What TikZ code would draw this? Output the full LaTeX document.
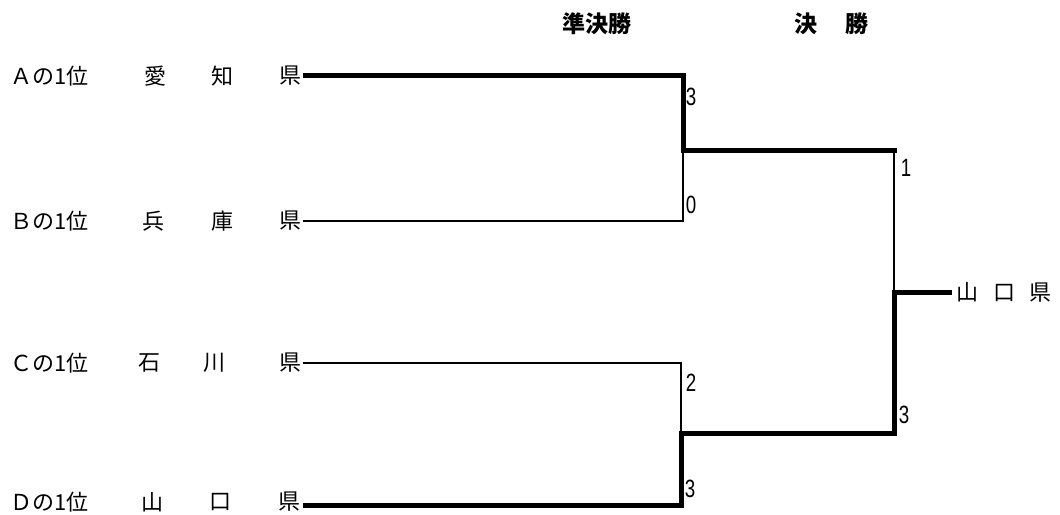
\documentclass[tikz,border=0pt]{standalone}
\usepackage{fontspec}
\newfontfamily\cjk{Noto Sans CJK JP}
\setmainfont{Liberation Sans}
\begin{document}
\begin{tikzpicture}[x=1pt,y=-1pt,
  lbl/.style={font=\cjk\fontsize{22}{22}\selectfont, inner sep=0pt, anchor=center},
  hdr/.style={font=\cjk\bfseries\fontsize{23}{23}\selectfont, inner sep=0pt},
  score/.style={font=\fontsize{25}{25}\selectfont, inner sep=0pt, xscale=0.75},
  win/.style={line width=5pt, line cap=rect, line join=miter},
  lose/.style={line width=1.6pt, line join=miter}]
\useasboundingbox (0,0) rectangle (1060,514);
% headers
\node[hdr] (h1) at (597,24) {準決勝};
\node[hdr] (h2a) at (806,24) {決};
\node[hdr] (h2b) at (857,24) {勝};
% row labels
\node[lbl,anchor=west] (a0) at (10,76) {Ａの1位};
\node[lbl] (a1) at (155,76) {愛};
\node[lbl] (a2) at (222,76) {知};
\node[lbl] (a3) at (290,76) {県};
\node[lbl,anchor=west] (b0) at (10,221) {Ｂの1位};
\node[lbl] (b1) at (153,221) {兵};
\node[lbl] (b2) at (222,221) {庫};
\node[lbl] (b3) at (290,221) {県};
\node[lbl,anchor=west] (c0) at (10,363) {Ｃの1位};
\node[lbl] (c1) at (149,363) {石};
\node[lbl] (c2) at (214,363) {川};
\node[lbl] (c3) at (290,363) {県};
\node[lbl,anchor=west] (d0) at (10,502) {Ｄの1位};
\node[lbl] (d1) at (152,502) {山};
\node[lbl] (d2) at (220,502) {口};
\node[lbl] (d3) at (289,502) {県};
% champion
\node[lbl,anchor=west] (w) at (956,292) {山\hspace{15pt}口\hspace{14pt}県};
% coordinates
\coordinate (A) at (305,75);
\coordinate (B) at (303,221);
\coordinate (C) at (303,363);
\coordinate (D) at (305,505);
\coordinate (s1) at (683,150);
\coordinate (s2) at (681,433);
\coordinate (t1) at (894,150);
\coordinate (t2) at (894,433);
\coordinate (f) at (894,292);
% brackets
\draw[lose] (B) -| (s1);
\draw[win] (A) -| (s1);
\draw[lose] (C) -| (s2);
\draw[win] (D) -| (s2);
\draw[lose] (t1) -- (f);
\draw[win] (s1) -- (t1);
\draw[win] (s2) -- (t2) -- (f);
\draw[win, shorten >=7pt] (f) -- (w.west);
% scores
\node[score] (sa) at (691,97) {3};
\node[score] (sb) at (691,205) {0};
\node[score] (sc) at (691,383) {2};
\node[score] (sd) at (690,489) {3};
\node[score] (se) at (906,168) {1};
\node[score] (sf) at (904,415) {3};
\end{tikzpicture}
\end{document}
